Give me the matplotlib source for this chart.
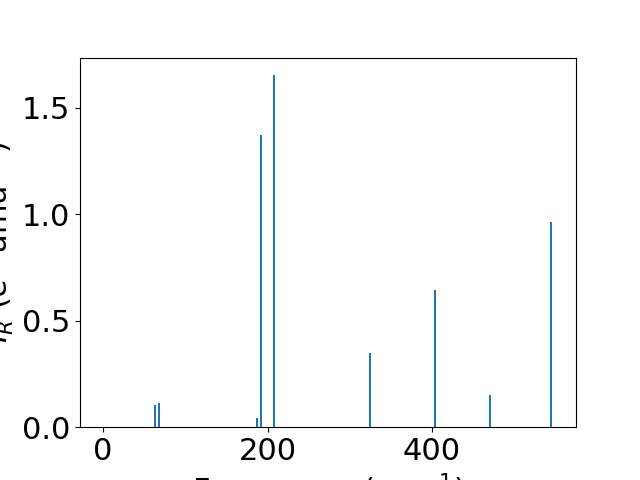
import matplotlib
matplotlib.use("Agg")
import matplotlib.pyplot as plt

# mode frequencies (cm^-1) and IR intensities (e^2 amu^-1)
freqs = [0.0, 63.0, 67.8, 187.0, 191.5, 207.3, 324.1, 404.0, 471.0, 545.1]
intensities = [0.0, 0.105, 0.114, 0.042, 1.372, 1.654, 0.349, 0.645, 0.152, 0.964]

plt.rcParams.update({"font.size": 22})

fig, ax = plt.subplots(figsize=(6.4, 4.8), dpi=100)
ax.bar(freqs, intensities, width=2.5, color="C0")
ax.set_xlim(-28, 575)
ax.set_xlabel(r"Frequency (cm$^{-1}$)")
ax.set_ylabel(r"$I_R$ ($e^2$ amu$^{-1}$)")
fig.savefig("out.png", dpi=100)
